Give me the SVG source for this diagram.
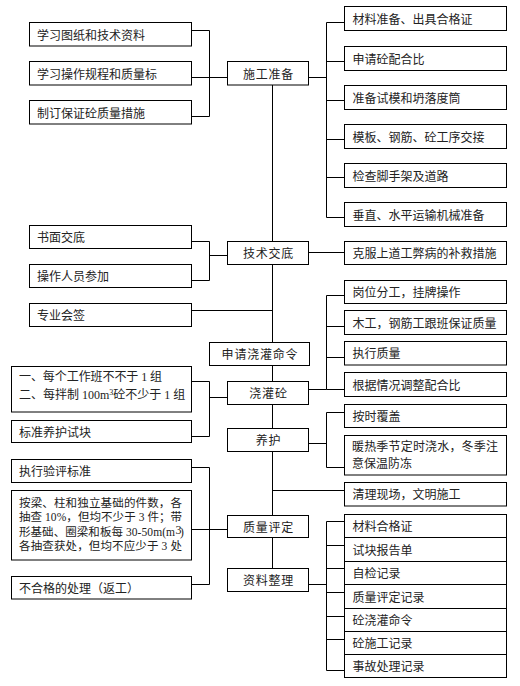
<svg xmlns="http://www.w3.org/2000/svg" width="520" height="686" viewBox="0 0 520 686">
<style>
.b{fill:#fff;stroke:#000;stroke-width:1}
.c{fill:none;stroke:#000;stroke-width:1}
text{font-family:'Liberation Serif','Noto Sans CJK SC',serif;font-size:12px;fill:#222}
.m{text-anchor:middle;letter-spacing:0.8px}
.s{font-size:11.5px}
</style>
<rect width="520" height="686" fill="#fff"/>
<g id="connectors">
<path class="c" d="M191.5,30.5H209.5V116.5H191.5M191.5,77.5H227.5"/>
<path class="c" d="M308.5,77.5H326.5M344.5,22.5H326.5V217.5H344.5M326.5,61.5H344.5M326.5,100.5H344.5M326.5,139.5H344.5M326.5,177.5H344.5"/>
<path class="c" d="M272.5,85V241.5M272.5,264.5V342.5M272.5,365.5V381.5M272.5,404.5V428.5M272.5,451.5V515.5M272.5,537.5V568.5"/>
<path class="c" d="M191.5,241.5H209.5V280.5H191.5M209.5,255.5H227.5"/>
<path class="c" d="M308.5,252.5H344.5"/>
<path class="c" d="M191.5,310.5H272.5"/>
<path class="c" d="M191.5,381.5H209.5V436.5H191.5M209.5,397.5H227.5"/>
<path class="c" d="M344.5,295.5H326.5V389.5H344.5M326.5,326.5H344.5M326.5,357.5H344.5M308.5,389.5H326.5"/>
<path class="c" d="M344.5,412.5H326.5V467.5H344.5M308.5,443.5H326.5"/>
<path class="c" d="M272.5,490.5H344.5"/>
<path class="c" d="M191.5,467.5H209.5V584.5H191.5M191.5,529.5H227.5"/>
<path class="c" d="M344.5,521.5H326.5V670.5H344.5M326.5,545.5H344.5M326.5,568.5H344.5M326.5,592.5H344.5M326.5,616.5H344.5M326.5,639.5H344.5M308.5,584.5H326.5"/>
</g>
<g id="c1"><rect class="b" x="227.5" y="61.5" width="81" height="23.5"/><text class="m" x="268.5" y="78.5">施工准备</text></g>
<g id="c2"><rect class="b" x="227.5" y="241.5" width="81" height="23"/><text class="m" x="268.5" y="258">技术交底</text></g>
<g id="c3"><rect class="b" x="209.5" y="342.5" width="100" height="23"/><text class="m" x="260" y="359">申请浇灌命令</text></g>
<g id="c4"><rect class="b" x="227.5" y="381.5" width="81" height="23"/><text class="m" x="268.5" y="398">浇灌砼</text></g>
<g id="c5"><rect class="b" x="227.5" y="428.5" width="81" height="23"/><text class="m" x="268.5" y="445">养护</text></g>
<g id="c6"><rect class="b" x="227.5" y="515.5" width="81" height="22"/><text class="m" x="268.5" y="531.5">质量评定</text></g>
<g id="c7"><rect class="b" x="227.5" y="568.5" width="81" height="23"/><text class="m" x="268.5" y="585">资料整理</text></g>
<g id="l1"><rect class="b" x="29.5" y="22.5" width="162" height="23.5"/><text x="37" y="39.5">学习图纸和技术资料</text></g>
<g id="l2"><rect class="b" x="29.5" y="61.5" width="162" height="23.5"/><text x="37" y="78.5">学习操作规程和质量标</text></g>
<g id="l3"><rect class="b" x="29.5" y="100.5" width="162" height="23.5"/><text x="37" y="117.5">制订保证砼质量措施</text></g>
<g id="l4"><rect class="b" x="29.5" y="225.5" width="162" height="23"/><text x="37" y="242">书面交底</text></g>
<g id="l5"><rect class="b" x="29.5" y="264.5" width="162" height="23"/><text x="37" y="281">操作人员参加</text></g>
<g id="l6"><rect class="b" x="29.5" y="303.5" width="162" height="23"/><text x="37" y="320">专业会签</text></g>
<g id="l7"><rect class="b" x="11.5" y="366.5" width="180" height="45.5"/><text x="19" y="381" textLength="143" lengthAdjust="spacing">一、每个工作班不不于 1 组</text><text x="19" y="398.5">二、每拌制 100m<tspan dy="-4" font-size="8">3</tspan><tspan dy="4">砼不少于 1 组</tspan></text></g>
<g id="l8"><rect class="b" x="11.5" y="420.5" width="180" height="22"/><text x="19" y="436.5">标准养护试块</text></g>
<g id="l9"><rect class="b" x="11.5" y="459.5" width="180" height="23"/><text x="19" y="476">执行验评标准</text></g>
<g id="l10"><rect class="b" x="11.5" y="490.5" width="180" height="69.5"/>
<text class="s" x="19" y="507" textLength="163" lengthAdjust="spacing">按梁、柱和独立基础的件数，各</text>
<text class="s" x="19" y="521" textLength="163" lengthAdjust="spacing">抽查 10%，但均不少于 3 件；带</text>
<text class="s" x="19" y="536" textLength="156" lengthAdjust="spacing">形基础、圈梁和板每 30-50m(m</text><text x="175.5" y="533.5" font-size="7">3</text><text class="s" x="180" y="536">)</text>
<text class="s" x="19" y="550" textLength="163" lengthAdjust="spacing">各抽查获处，但均不应少于 3 处</text></g>
<g id="l11"><rect class="b" x="11.5" y="576.5" width="180" height="22.5"/><text x="19" y="592.5">不合格的处理（返工）</text></g>
<g id="r1"><rect class="b" x="344.5" y="6.5" width="162" height="24"/><text x="352.5" y="24">材料准备、出具合格证</text></g>
<g id="r2"><rect class="b" x="344.5" y="46.5" width="162" height="24"/><text x="352.5" y="64">申请砼配合比</text></g>
<g id="r3"><rect class="b" x="344.5" y="85.5" width="162" height="24"/><text x="352.5" y="103">准备试模和坍落度筒</text></g>
<g id="r4"><rect class="b" x="344.5" y="124.5" width="162" height="24"/><text x="352.5" y="142">模板、钢筋、砼工序交接</text></g>
<g id="r5"><rect class="b" x="344.5" y="163.5" width="162" height="24"/><text x="352.5" y="181">检查脚手架及道路</text></g>
<g id="r6"><rect class="b" x="344.5" y="202.5" width="162" height="24"/><text x="352.5" y="220">垂直、水平运输机械准备</text></g>
<g id="r7"><rect class="b" x="344.5" y="241.5" width="162" height="23"/><text x="352.5" y="258">克服上道工弊病的补救措施</text></g>
<g id="r8"><rect class="b" x="344.5" y="280.5" width="162" height="23"/><text x="352.5" y="296.5">岗位分工，挂牌操作</text></g>
<g id="r9"><rect class="b" x="344.5" y="310.5" width="162" height="24"/><text x="352.5" y="327.5">木工，钢筋工跟班保证质量</text></g>
<g id="r10"><rect class="b" x="344.5" y="341.5" width="162" height="23.5"/><text x="352.5" y="358">执行质量</text></g>
<g id="r11"><rect class="b" x="344.5" y="372.5" width="162" height="24"/><text x="352.5" y="389.5">根据情况调整配合比</text></g>
<g id="r12"><rect class="b" x="344.5" y="404.5" width="162" height="23"/><text x="352.5" y="421">按时覆盖</text></g>
<g id="r13"><rect class="b" x="344.5" y="435.5" width="162" height="39.5"/><text x="352" y="451" textLength="146" lengthAdjust="spacing">暖热季节定时浇水，冬季注</text><text x="352" y="468">意保温防冻</text></g>
<g id="r14"><rect class="b" x="344.5" y="482.5" width="162" height="23.5"/><text x="352.5" y="499">清理现场，文明施工</text></g>
<g id="r15"><rect class="b" x="344.5" y="514.5" width="162" height="23"/><text x="352.5" y="531">材料合格证</text></g>
<g id="r16"><rect class="b" x="344.5" y="537.5" width="162" height="24"/><text x="352.5" y="554.5">试块报告单</text></g>
<g id="r17"><rect class="b" x="344.5" y="561.5" width="162" height="23"/><text x="352.5" y="578">自检记录</text></g>
<g id="r18"><rect class="b" x="344.5" y="584.5" width="162" height="24"/><text x="352.5" y="601.5">质量评定记录</text></g>
<g id="r19"><rect class="b" x="344.5" y="608.5" width="162" height="23"/><text x="352.5" y="625">砼浇灌命令</text></g>
<g id="r20"><rect class="b" x="344.5" y="631.5" width="162" height="23"/><text x="352.5" y="648">砼施工记录</text></g>
<g id="r21"><rect class="b" x="344.5" y="654.5" width="162" height="23"/><text x="352.5" y="671">事故处理记录</text></g>
</svg>
